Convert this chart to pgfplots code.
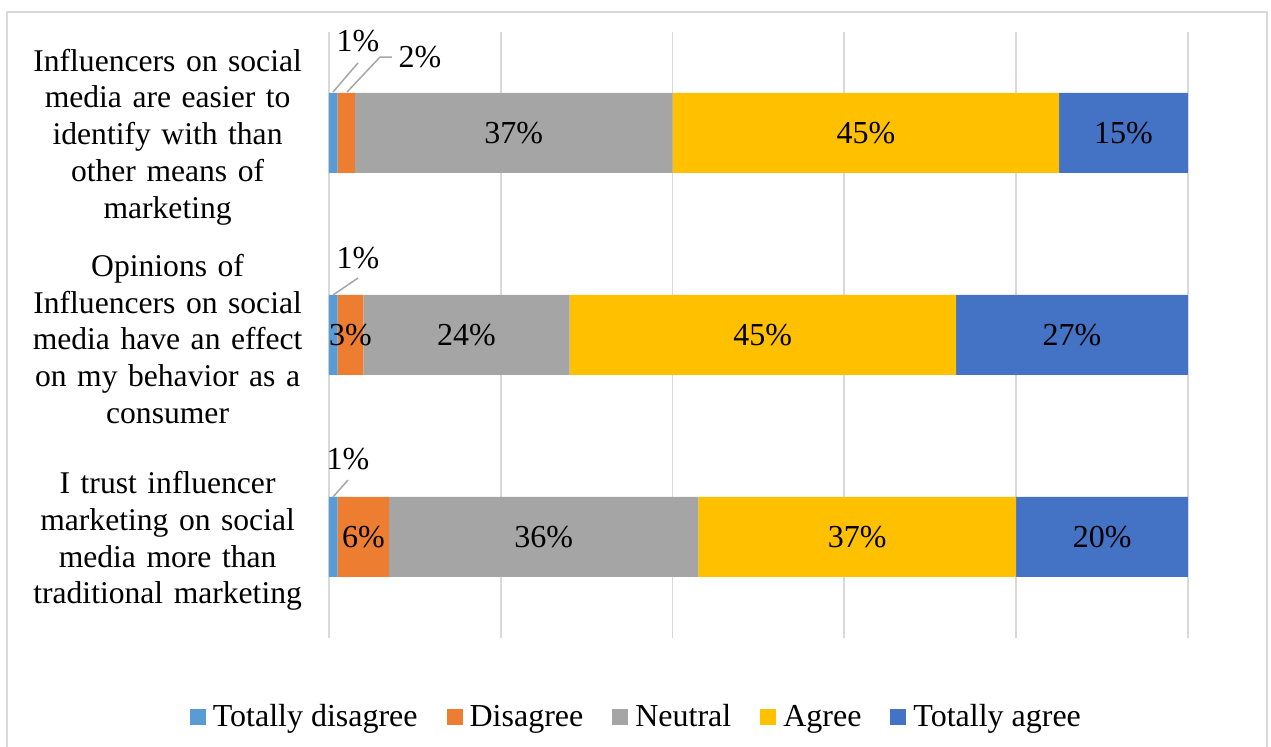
\documentclass[border=0pt]{standalone}
\usepackage{pgfplots}
\pgfplotsset{compat=1.18}
\usepackage{fontspec}
\setmainfont{Liberation Serif}
\definecolor{ctd}{HTML}{5B9BD5}
\definecolor{cd}{HTML}{ED7D31}
\definecolor{cn}{HTML}{A5A5A5}
\definecolor{ca}{HTML}{FFC000}
\definecolor{cta}{HTML}{4472C4}
\definecolor{gridc}{HTML}{D9D9D9}
\definecolor{leadc}{HTML}{A6A6A6}
\begin{document}
\begin{tikzpicture}[font=\fontsize{16pt}{18pt}\selectfont]
\pgfplotsset{common/.style={scale only axis, width=429.5pt, height=303pt,
  at={(0pt,0pt)}, anchor=south west, xmin=0, xmax=100, ymin=0.5, ymax=3.5}}
\begin{axis}[common, xbar stacked, bar width=40pt,
  xtick={0,20,40,60,80,100}, xticklabels={},
  xmajorgrids, major grid style={draw=gridc, line width=0.9pt},
  ytick={1,2,3},
  yticklabels={I trust influencer\\marketing on social\\media more than\\traditional marketing,
    Opinions of\\Influencers on social\\media have an effect\\on my behavior as a\\consumer,
    Influencers on social\\media are easier to\\identify with than\\other means of\\marketing},
  yticklabel style={align=center, text width=150pt, inner sep=0pt, anchor=east, xshift=-5.5pt, yshift=-2pt,
    font=\fontsize{15.8pt}{18.4pt}\selectfont},
  major tick length=0pt,
  axis line style={draw=none},
  legend columns=5,
  legend style={draw=none, fill=none, at={(0.359,-0.1305)}, anchor=center,
    font=\fontsize{16pt}{18pt}\selectfont,
    /tikz/every odd column/.append style={column sep=1.5pt},
    /tikz/every even column/.append style={column sep=12.5pt}},
  legend image code/.code={\fill[#1] (0pt,-4pt) rectangle (8pt,4pt);},
]
\addplot[fill=ctd, draw=none] coordinates {(1,1) (1,2) (1,3)};
\addplot[fill=cd, draw=none] coordinates {(6,1) (3,2) (2,3)};
\addplot[fill=cn, draw=none] coordinates {(36,1) (24,2) (37,3)};
\addplot[fill=ca, draw=none] coordinates {(37,1) (45,2) (45,3)};
\addplot[fill=cta, draw=none] coordinates {(20,1) (27,2) (15,3)};
\legend{Totally disagree, Disagree, Neutral, Agree, Totally agree}
\end{axis}
\begin{axis}[common, hide axis, clip=false]
\addplot[leadc, line width=0.75pt] coordinates {(0.47,3.203) (3.38,3.347)};
\addplot[leadc, line width=0.75pt] coordinates {(2.10,3.203) (5.94,3.376) (7.33,3.376)};
\addplot[leadc, line width=0.75pt] coordinates {(0.47,2.198) (3.38,2.282)};
\addplot[leadc, line width=0.75pt] coordinates {(0.47,1.198) (2.21,1.282)};
\addplot[draw=none, mark=none, nodes near coords={\pgfplotspointmeta\%},
  point meta=explicit symbolic, nodes near coords align=center,
  every node near coord/.append style={font=\fontsize{16pt}{18pt}\selectfont, inner sep=0pt, text=black}]
  table[meta=m] {
x y m
21.5 3 37
62.5 3 45
92.5 3 15
2.5 2 3
16 2 24
50.5 2 45
86.5 2 27
4 1 6
25 1 36
61.5 1 37
90 1 20
3.38 3.455 1
10.59 3.376 2
3.38 2.381 1
2.21 1.386 1
};
\end{axis}
\draw[gridc, line width=0.75pt] (-161pt,-54.5pt) -- (-161pt,313pt) -- (469pt,313pt) -- (469pt,-54.5pt);
\pgfresetboundingbox
\useasboundingbox (-164.5pt,-54.5pt) rectangle (471pt,319pt);
\end{tikzpicture}
\end{document}
